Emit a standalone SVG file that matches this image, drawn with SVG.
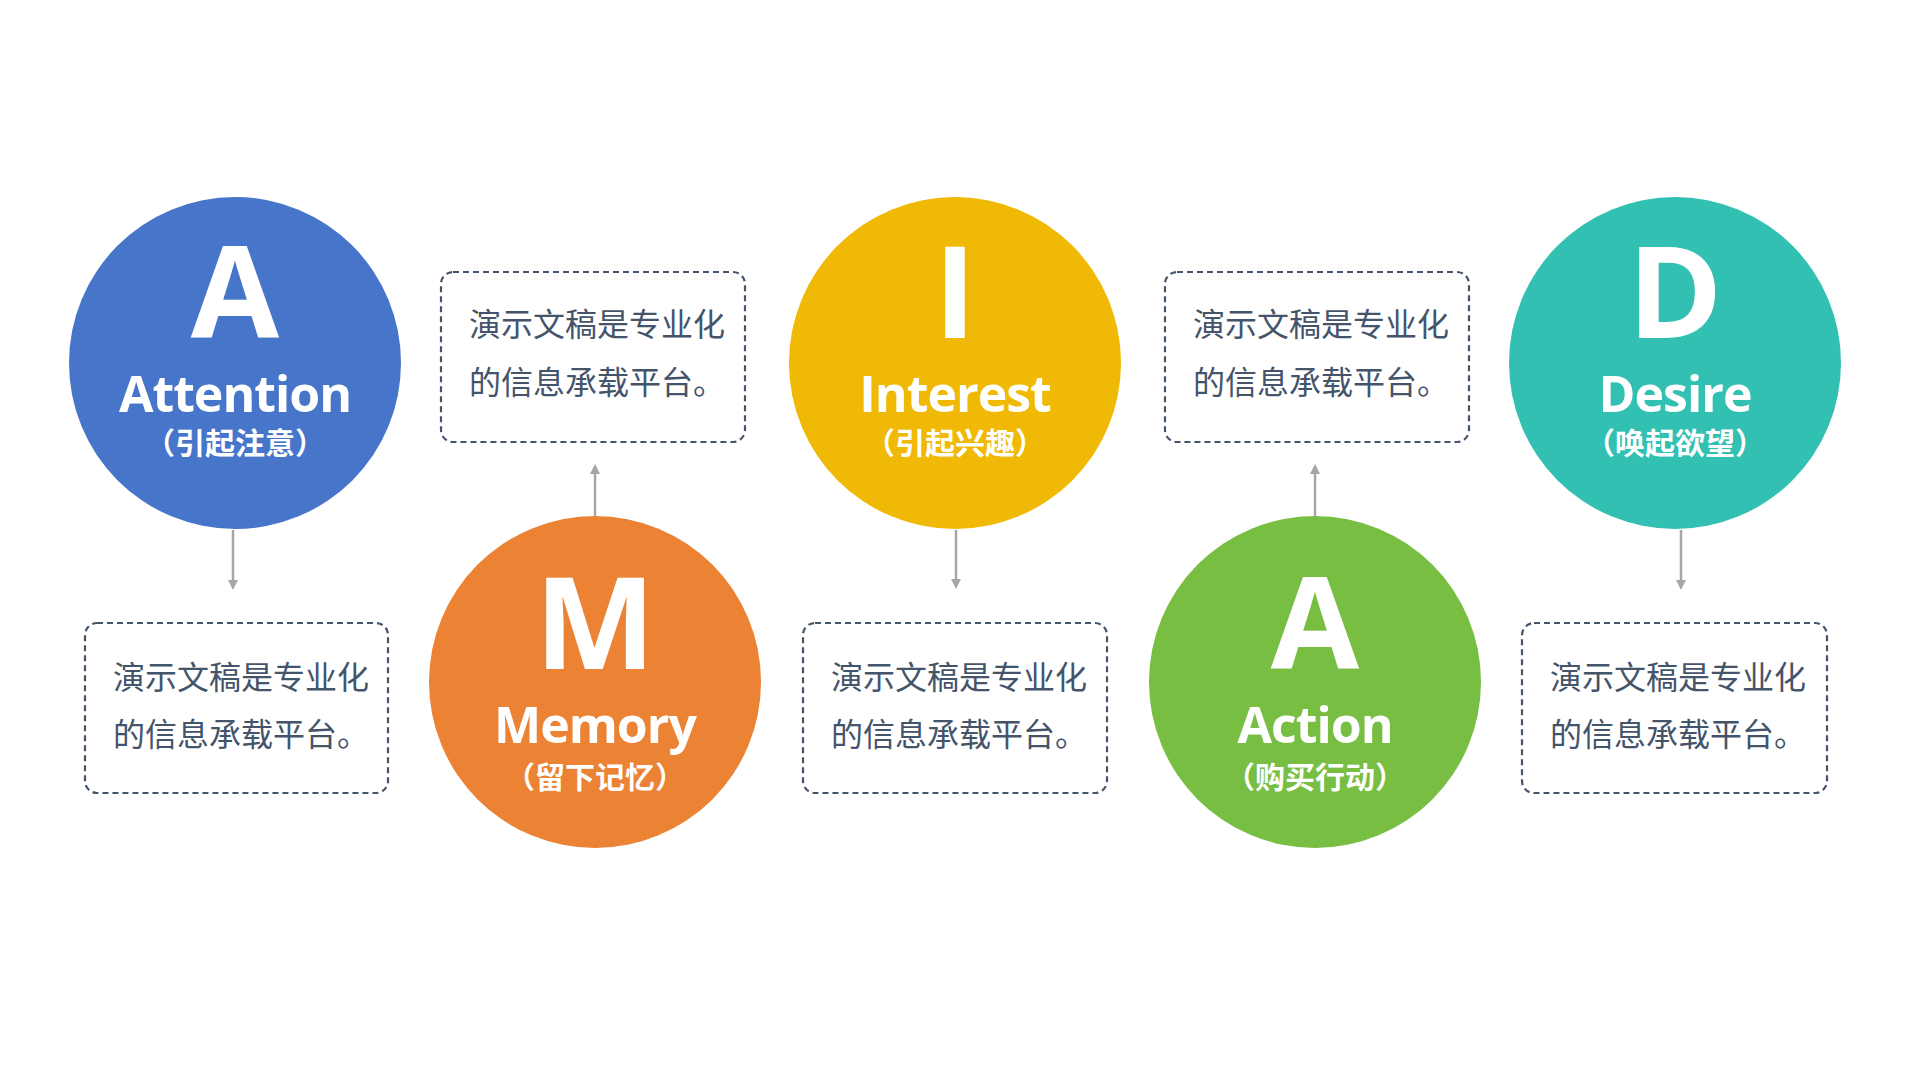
<svg xmlns="http://www.w3.org/2000/svg" width="1920" height="1080" viewBox="0 0 1920 1080">
<style>
.big{font-family:"Open Sans","Noto Sans CJK SC",sans-serif;font-weight:700;font-size:128px;fill:#fff;text-anchor:middle}
.word{font-family:"Open Sans","Noto Sans CJK SC",sans-serif;font-weight:700;font-size:50px;letter-spacing:-1px;fill:#fff;text-anchor:middle}
.sub{font-family:"Noto Sans CJK SC",sans-serif;font-weight:700;font-size:30px;fill:#fff;text-anchor:middle}
.box{fill:#fff;stroke:#44546A;stroke-width:2.2;stroke-dasharray:6 4}
.txt{font-family:"Noto Sans CJK SC",sans-serif;font-size:32px;fill:#44546A}
.conn{stroke:#A6A6A6;stroke-width:2.5;fill:none}
</style>
<defs>
<marker id="arr" viewBox="0 0 10 10" refX="0" refY="5" markerWidth="10" markerHeight="10" markerUnits="userSpaceOnUse" orient="auto"><path d="M0,0 L10,5 L0,10 z" fill="#A6A6A6"/></marker>
</defs>
<rect width="1920" height="1080" fill="#fff"/>
<g id="connectors">
<path class="conn" d="M233,530 L233,580" marker-end="url(#arr)"/>
<path class="conn" d="M956,530 L956,579" marker-end="url(#arr)"/>
<path class="conn" d="M1681,530 L1681,580" marker-end="url(#arr)"/>
<path class="conn" d="M595,516 L595,474" marker-end="url(#arr)"/>
<path class="conn" d="M1315,516 L1315,474" marker-end="url(#arr)"/>
</g>
<g id="node-attention">
<circle cx="235" cy="363" r="166" fill="#4775CA"/>
<text class="big" x="235" y="338">A</text>
<text class="word" x="235" y="412">Attention</text>
<text class="sub" x="235" y="454">（引起注意）</text>
</g>
<g id="node-memory">
<circle cx="595" cy="682" r="166" fill="#EC8233"/>
<text class="big" x="595" y="669">M</text>
<text class="word" x="595" y="743">Memory</text>
<text class="sub" x="595" y="788">（留下记忆）</text>
</g>
<g id="node-interest">
<circle cx="955" cy="363" r="166" fill="#F0B905"/>
<text class="big" x="955" y="338">I</text>
<text class="word" x="955" y="412">Interest</text>
<text class="sub" x="955" y="454">（引起兴趣）</text>
</g>
<g id="node-action">
<circle cx="1315" cy="682" r="166" fill="#77BE43"/>
<text class="big" x="1315" y="669">A</text>
<text class="word" x="1315" y="743">Action</text>
<text class="sub" x="1315" y="788">（购买行动）</text>
</g>
<g id="node-desire">
<circle cx="1675" cy="363" r="166" fill="#32C0B2"/>
<text class="big" x="1675" y="338">D</text>
<text class="word" x="1675" y="412">Desire</text>
<text class="sub" x="1675" y="454">（唤起欲望）</text>
</g>
<g id="box-top-1">
<rect class="box" x="441" y="272" width="304" height="170" rx="12"/>
<text class="txt" x="469" y="336">演示文稿是专业化</text>
<text class="txt" x="469" y="394">的信息承载平台。</text>
</g>
<g id="box-top-2">
<rect class="box" x="1165" y="272" width="304" height="170" rx="12"/>
<text class="txt" x="1193" y="336">演示文稿是专业化</text>
<text class="txt" x="1193" y="394">的信息承载平台。</text>
</g>
<g id="box-bottom-1">
<rect class="box" x="85" y="623" width="303" height="170" rx="12"/>
<text class="txt" x="113" y="689">演示文稿是专业化</text>
<text class="txt" x="113" y="746">的信息承载平台。</text>
</g>
<g id="box-bottom-2">
<rect class="box" x="803" y="623" width="304" height="170" rx="12"/>
<text class="txt" x="831" y="689">演示文稿是专业化</text>
<text class="txt" x="831" y="746">的信息承载平台。</text>
</g>
<g id="box-bottom-3">
<rect class="box" x="1522" y="623" width="305" height="170" rx="12"/>
<text class="txt" x="1550" y="689">演示文稿是专业化</text>
<text class="txt" x="1550" y="746">的信息承载平台。</text>
</g>
</svg>
